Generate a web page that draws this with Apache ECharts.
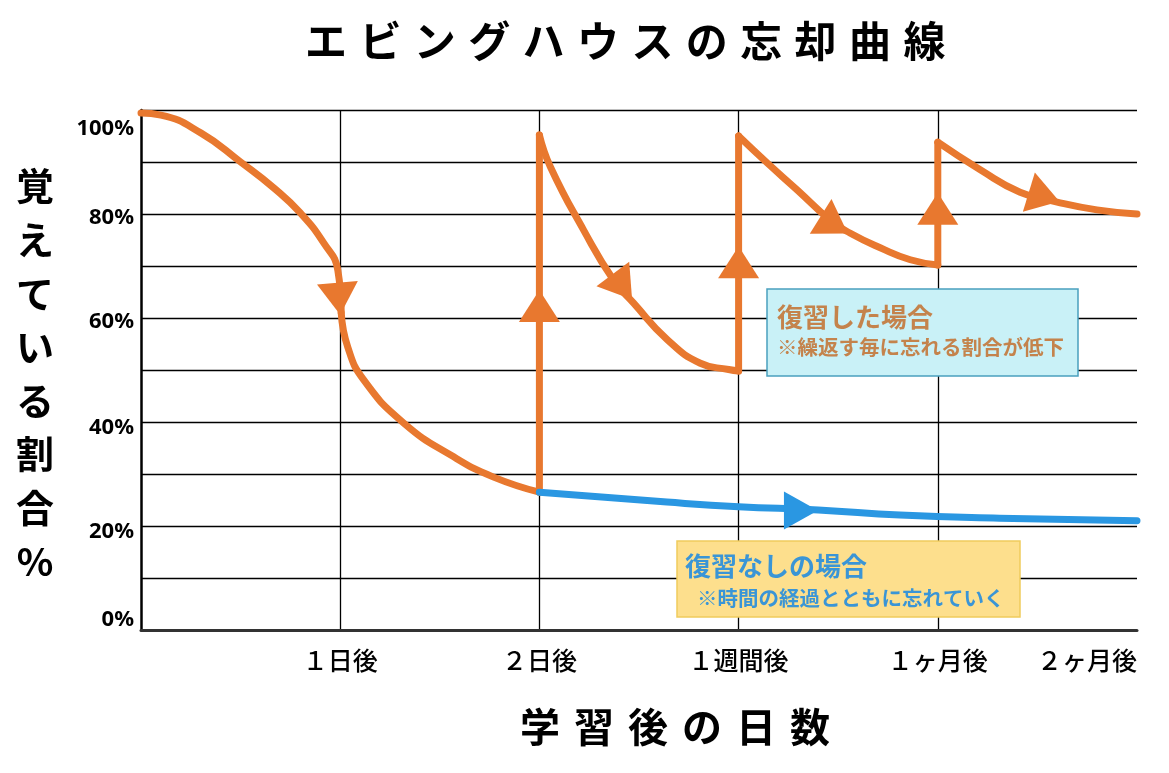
<!DOCTYPE html>
<html>
<head>
<meta charset="utf-8">
<script src="https://cdn.jsdelivr.net/npm/echarts@6/dist/echarts.min.js"></script>
<style>html,body{margin:0;padding:0;background:#fff}#c{width:1169px;height:773px}</style>
</head>
<body>
<div id="c"></div>
<script>
// ---- data ----
const titleText = 'エビングハウスの忘却曲線';
const xAxisTitle = '学習後の日数';
const yAxisTitle = '覚えている割合%';
const xTickLabels = ['', '１日後', '２日後', '１週間後', '１ヶ月後', '２ヶ月後'];
const yLabelStep = 20;

// orange: first forgetting curve, learning -> 1 day
const forgetDay1 = [[0,99.4],[0.1,99.0],[0.3,95.6],[0.5,90.0],[0.667,85.0],[0.8,80.2],[0.918,74.4],[0.988,69.2],[1.005,61.0]];
// orange: first forgetting curve, 1 day -> 2 days
const forgetDay2 = [[1.005,61.0],[1.038,54.4],[1.118,48.1],[1.319,39.8],[1.57,33.3],[1.77,29.4],[2.0,26.5]];
// orange: after 1st review
const review1 = [[2.0,95.2],[2.056,89.0],[2.222,76.9],[2.372,67.3],[2.472,62.9],[2.643,55.8],[2.808,51.3],[2.95,50.1],[3.0,49.8]];
// orange: after 2nd review
const review2 = [[3.0,95.0],[3.144,89.8],[3.295,84.6],[3.46,78.8],[3.561,76.3],[3.711,73.5],[3.862,71.2],[4.0,70.2]];
// orange: after 3rd review
const review3 = [[4.0,93.8],[4.213,88.5],[4.413,84.2],[4.599,82.3],[4.799,80.8],[5.0,80.0]];
// blue: no review
const noReview = [[2.0,26.5],[2.64,24.6],[3.0,23.7],[3.4,23.1],[3.81,22.1],[4.31,21.5],[5.0,21.0]];
// arrow positions on the curves
const orangeArrows = [[0.993,63.7],[2.0,62.3],[2.417,66.0],[3.0,70.7],[3.48,77.9],[4.0,81.0],[4.534,83.3]];
const blueArrows = [[3.313,23.0]];

// ---- styles ----
const ORANGE = '#E8782F';
const BLUE = '#2A97E2';
const orangeArrowRot = [-175, 0, -143, 0, -122, 0, -107];
const blueArrowRot = [-90];
const CJK = '"Noto Sans CJK JP", sans-serif';

const reviews = [review1, review2, review3];
const prevs = [forgetDay2, review1, review2];
const jumps = reviews.map((r, i) => [prevs[i][prevs[i].length - 1], r[0]]);

function lineSeries(data, color, smooth) {
  return {
    type: 'line', data: data, showSymbol: false, smooth: smooth,
    lineStyle: { color: color, width: 7, cap: 'round', join: 'round' },
    z: 3, silent: true
  };
}

function spaced(chars, x0, y0, dx, dy, font) {
  return Array.from(chars).map((ch, i) => ({
    type: 'text', x: x0 + i * dx, y: y0 + i * dy, z: 100,
    style: { text: ch, font: font, fill: '#000', align: 'center', verticalAlign: 'middle',
             textAlign: 'center', textVerticalAlign: 'middle' }
  }));
}

function box(x, y, w, h, fill, stroke, lines) {
  const els = [{ type: 'rect', z: 90, shape: { x: x, y: y, width: w, height: h },
                 style: { fill: fill, stroke: stroke, lineWidth: 1.5 } }];
  lines.forEach(l => els.push({
    type: 'text', x: l.x, y: l.y, z: 91,
    style: { text: l.text, font: l.font, fill: l.color, align: 'left', verticalAlign: 'middle',
             textAlign: 'left', textVerticalAlign: 'middle' }
  }));
  return els;
}

const series = [];
series.push(lineSeries(forgetDay1, ORANGE, 0.5));
series.push(lineSeries(forgetDay2, ORANGE, 0.5));
reviews.forEach(r => series.push(lineSeries(r, ORANGE, 0.5)));
jumps.forEach(j => series.push(lineSeries(j, ORANGE, false)));
series.push(lineSeries(noReview, BLUE, 0.5));
series.push({
  type: 'scatter', symbol: 'triangle', symbolSize: [41, 32], z: 5, silent: true,
  itemStyle: { color: ORANGE, opacity: 1 },
  data: orangeArrows.map((p, i) => ({ value: p, symbolRotate: orangeArrowRot[i] }))
});
series.push({
  type: 'scatter', symbol: 'triangle', symbolSize: [38, 34], z: 5, silent: true,
  itemStyle: { color: BLUE, opacity: 1 },
  data: blueArrows.map((p, i) => ({ value: p, symbolRotate: blueArrowRot[i] }))
});

const yFont = { fontFamily: '"Noto Sans", sans-serif', fontWeight: 'bold', fontSize: 22, color: '#000' };

const graphics = []
  .concat(spaced(titleText, 326, 41, 54.4, 0, 'bold 42px ' + CJK))
  .concat(spaced(xAxisTitle, 540, 727, 54, 0, 'bold 40px ' + CJK))
  .concat(spaced(yAxisTitle, 35, 186, 0, 53.6, 'bold 38px ' + CJK))
  .concat(box(767, 289, 311, 87, '#C9F1F7', '#4AA0BE', [
    { text: '復習した場合', x: 777, y: 317, font: 'bold 26px ' + CJK, color: '#C4834C' },
    { text: '※繰返す毎に忘れる割合が低下', x: 777, y: 347, font: 'bold 20.5px ' + CJK, color: '#C4834C' }
  ]))
  .concat(box(677, 541, 343, 76, '#FDDF8D', '#F0CC5C', [
    { text: '復習なしの場合', x: 685, y: 566, font: 'bold 26px ' + CJK, color: '#3A95D6' },
    { text: '※時間の経過とともに忘れていく', x: 697, y: 598, font: 'bold 20.5px ' + CJK, color: '#3A95D6' }
  ]));

const chart = echarts.init(document.getElementById('c'), null, { renderer: 'canvas' });
chart.setOption({
  animation: false,
  backgroundColor: '#fff',
  grid: { left: 141, right: 32, top: 110, bottom: 143, containLabel: false },
  xAxis: {
    type: 'value', min: 0, max: 5, interval: 1,
    axisLine: { show: true, onZero: false, lineStyle: { color: '#333', width: 3 } },
    axisTick: { show: false },
    splitLine: { show: true, showMinLine: false, showMaxLine: false, lineStyle: { color: '#000', width: 1.3 } },
    axisLabel: {
      show: true, margin: 18, fontFamily: CJK, fontSize: 25, fontWeight: 500, color: '#000',
      alignMaxLabel: 'right', showMinLabel: true, showMaxLabel: true,
      formatter: v => xTickLabels[Math.round(v)] || ''
    }
  },
  yAxis: {
    type: 'value', min: 0, max: 100, interval: 10,
    axisLine: { show: true, onZero: false, lineStyle: { color: '#000', width: 2.5 } },
    axisTick: { show: false },
    splitLine: { show: true, showMinLine: false, lineStyle: { color: '#000', width: 1.3 } },
    axisLabel: {
      show: true, margin: 7, ...yFont,
      formatter: v => {
        if (v % yLabelStep !== 0) return '';
        const k = v === 100 ? 't' : v === 0 ? 'b' : (v >= 60 ? 'm' : 'n');
        return '{' + k + '|' + v + '%}';
      },
      rich: {
        t: { ...yFont, padding: [38, 0, 0, 0] },
        m: { ...yFont, padding: [8, 0, 0, 0] },
        n: { ...yFont, padding: [12, 0, 0, 0] },
        b: { ...yFont, padding: [0, 0, 20, 0] }
      }
    }
  },
  graphic: { elements: graphics },
  series: series
});
</script>
</body>
</html>
